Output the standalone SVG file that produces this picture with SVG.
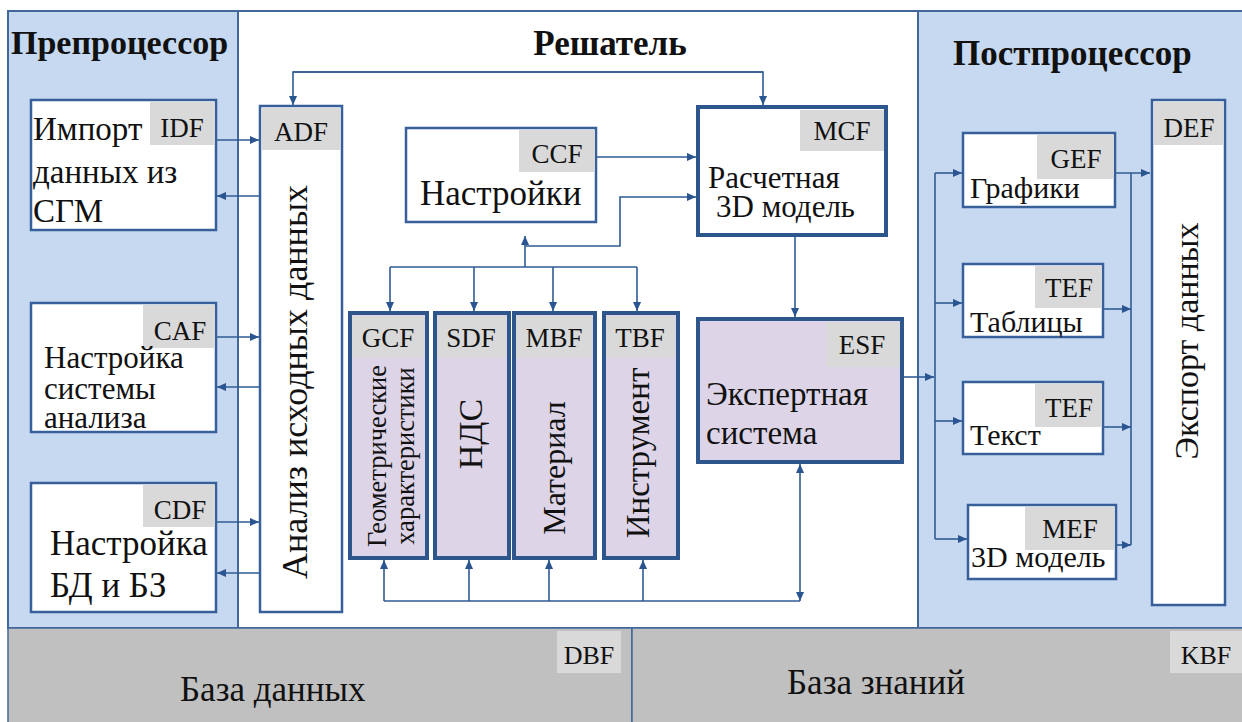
<svg xmlns="http://www.w3.org/2000/svg" width="1242" height="722" viewBox="0 0 1242 722" font-family="Liberation Serif, Tinos, DejaVu Serif, serif">
<style>
text{font-family:'Liberation Serif','Tinos','DejaVu Serif',serif;fill:#111}
.t{font-weight:bold;font-size:34px}
.lab{fill:#d9d9d9}
.lt{font-size:27px;text-anchor:middle}
.box{fill:#fff;stroke:#37609a;stroke-width:2.5}
.thick{fill:#fff;stroke:#2d568c;stroke-width:4}
.lav{fill:#ddd5e7;stroke:#2d568c;stroke-width:4}
.c path,.c line,.c polyline{fill:none;stroke:#2f5b93;stroke-width:1.6}
.ar{marker-end:url(#a)}
.m{font-size:31px}
.rot{text-anchor:middle}
</style>
<defs>
<marker id="a" viewBox="0 0 10 10" refX="10" refY="5" markerWidth="10" markerHeight="9" markerUnits="userSpaceOnUse" orient="auto-start-reverse">
<path d="M0,0.5 L10,5 L0,9.5z" fill="#2a5590"/>
</marker>
</defs>
<rect width="1242" height="722" fill="#fff"/>
<g id="panels">
<rect x="8" y="11" width="230" height="617" fill="#c6d9f0" stroke="#41679b" stroke-width="2"/>
<rect x="238" y="11" width="680" height="617" fill="#fff" stroke="#41679b" stroke-width="2"/>
<rect x="918" y="11" width="330" height="617" fill="#c6d9f0" stroke="#41679b" stroke-width="2"/>
<text class="t" x="11" y="54">Препроцессор</text>
<text class="t" x="610" y="55" text-anchor="middle" style="font-size:35px">Решатель</text>
<text class="t" x="953" y="65" style="font-size:35px">Постпроцессор</text>
</g>
<g id="bottom">
<rect x="8" y="628" width="624" height="100" fill="#c0c0c0" stroke="#41679b" stroke-width="1.5"/>
<rect x="632" y="628" width="616" height="100" fill="#c0c0c0" stroke="#41679b" stroke-width="1.5"/>
<rect class="lab" x="557" y="631" width="64" height="42"/>
<text x="589" y="664" font-size="26" text-anchor="middle">DBF</text>
<text x="180" y="701" style="font-size:35px">База данных</text>
<rect class="lab" x="1170" y="631" width="72" height="42"/>
<text x="1206" y="664" font-size="26" text-anchor="middle">KBF</text>
<text x="787" y="694" style="font-size:35px">База знаний</text>
</g>
<g id="connectors" class="c">
<line class="ar" x1="216" y1="140" x2="259" y2="140"/>
<line class="ar" x1="260" y1="196" x2="217" y2="196"/>
<line class="ar" x1="216" y1="337" x2="259" y2="337"/>
<line class="ar" x1="260" y1="387" x2="217" y2="387"/>
<line class="ar" x1="216" y1="522" x2="259" y2="522"/>
<line class="ar" x1="260" y1="573" x2="217" y2="573"/>
<path d="M763,72 H293 V105" class="ar"/>
<path d="M293,72 H763 V105" class="ar"/>
<line class="ar" x1="596" y1="157" x2="696" y2="157"/>
<path class="ar" d="M525,246 H620 V197 H696"/>
<line class="ar" x1="525" y1="267" x2="525" y2="236"/>
<path d="M390,267 H637"/>
<line class="ar" x1="390" y1="267" x2="390" y2="311"/>
<line class="ar" x1="474" y1="267" x2="474" y2="311"/>
<line class="ar" x1="553" y1="267" x2="553" y2="311"/>
<line class="ar" x1="637" y1="267" x2="637" y2="311"/>
<line class="ar" x1="795" y1="235" x2="795" y2="317"/>
<path d="M384,601 H800"/>
<line class="ar" x1="384" y1="601" x2="384" y2="560"/>
<line class="ar" x1="469" y1="601" x2="469" y2="560"/>
<line class="ar" x1="549" y1="601" x2="549" y2="560"/>
<line class="ar" x1="643" y1="601" x2="643" y2="560"/>
<line class="ar" x1="800" y1="530" x2="800" y2="464"/>
<line class="ar" x1="800" y1="530" x2="800" y2="601"/>
<line class="ar" x1="902" y1="377" x2="934" y2="377"/>
<path d="M935,173 V539"/>
<line class="ar" x1="935" y1="173" x2="962" y2="173"/>
<line class="ar" x1="935" y1="303" x2="962" y2="303"/>
<line class="ar" x1="935" y1="421" x2="962" y2="421"/>
<line class="ar" x1="935" y1="539" x2="967" y2="539"/>
<path d="M1131,173 V545"/>
<line class="ar" x1="1115" y1="173" x2="1150" y2="173"/>
<line class="ar" x1="1103" y1="309" x2="1131" y2="309"/>
<line class="ar" x1="1103" y1="427" x2="1131" y2="427"/>
<line class="ar" x1="1116" y1="545" x2="1131" y2="545"/>
</g>
<g id="IDF">
<rect class="box" x="31" y="100" width="185" height="130"/>
<rect class="lab" x="150" y="102" width="65" height="43"/>
<text class="lt" x="182" y="137">IDF</text>
<text x="33" y="140" style="font-size:33px">Импорт</text>
<text x="33" y="183" style="font-size:33px">данных из</text>
<text x="33" y="222" style="font-size:33px">СГМ</text>
</g>
<g id="CAF">
<rect class="box" x="31" y="303" width="185" height="129"/>
<rect class="lab" x="143" y="305" width="72" height="43"/>
<text class="lt" x="180" y="340">CAF</text>
<text class="m" x="44" y="368">Настройка</text>
<text class="m" x="44" y="399">системы</text>
<text class="m" x="44" y="428">анализа</text>
</g>
<g id="CDF">
<rect class="box" x="31" y="483" width="185" height="129"/>
<rect class="lab" x="143" y="485" width="72" height="42"/>
<text class="lt" x="180" y="519">CDF</text>
<text x="50" y="555" style="font-size:35px">Настройка</text>
<text x="50" y="597" style="font-size:35px">БД и БЗ</text>
</g>
<g id="ADF">
<rect class="box" x="260" y="106" width="82" height="506"/>
<rect class="lab" x="262" y="108" width="78" height="42"/>
<text class="lt" x="301" y="141">ADF</text>
<text class="rot" transform="translate(307,382) rotate(-90)" style="font-size:36px">Анализ исходных данных</text>
</g>
<g id="CCF">
<rect class="box" x="406" y="128" width="190" height="94"/>
<rect class="lab" x="519" y="130" width="76" height="42"/>
<text class="lt" x="557" y="163">CCF</text>
<text x="420" y="205" style="font-size:35px">Настройки</text>
</g>
<g id="MCF">
<rect class="thick" x="698" y="107" width="188" height="128"/>
<rect class="lab" x="800" y="110" width="84" height="41"/>
<text class="lt" x="842" y="140">MCF</text>
<text class="m" x="708" y="188">Расчетная</text>
<text class="m" x="716" y="217">3D модель</text>
</g>
<g id="GCF">
<rect class="lav" x="350" y="313" width="77" height="245"/>
<rect class="lab" x="352" y="316" width="72" height="42"/>
<text class="lt" x="388" y="347">GCF</text>
<text class="rot" transform="translate(386,456) rotate(-90)" style="font-size:26.5px">Геометрические</text>
<text class="rot" transform="translate(414,456) rotate(-90)" style="font-size:26.5px">характеристики</text>
</g>
<g id="SDF">
<rect class="lav" x="435" y="313" width="74" height="245"/>
<rect class="lab" x="437" y="316" width="69" height="42"/>
<text class="lt" x="471" y="347">SDF</text>
<text class="rot" transform="translate(482,434) rotate(-90)" style="font-size:34px">НДС</text>
</g>
<g id="MBF">
<rect class="lav" x="514" y="313" width="81" height="245"/>
<rect class="lab" x="516" y="316" width="76" height="42"/>
<text class="lt" x="554" y="347">MBF</text>
<text class="rot" transform="translate(565,468) rotate(-90)" style="font-size:32px">Материал</text>
</g>
<g id="TBF">
<rect class="lav" x="604" y="313" width="74" height="245"/>
<rect class="lab" x="606" y="316" width="69" height="42"/>
<text class="lt" x="640" y="347">TBF</text>
<text class="rot" transform="translate(649,453) rotate(-90)" style="font-size:33px">Инструмент</text>
</g>
<g id="ESF">
<rect class="lav" x="698" y="319" width="204" height="143"/>
<rect class="lab" x="826" y="322" width="74" height="45"/>
<text class="lt" x="862" y="354">ESF</text>
<text x="706" y="405" style="font-size:33px">Экспертная</text>
<text x="706" y="444" style="font-size:33px">система</text>
</g>
<g id="GEF">
<rect class="box" x="963" y="133" width="152" height="74"/>
<rect class="lab" x="1037" y="135" width="77" height="44"/>
<text class="lt" x="1076" y="168">GEF</text>
<text x="970" y="198" style="font-size:30px">Графики</text>
</g>
<g id="TEF1">
<rect class="box" x="963" y="264" width="140" height="73"/>
<rect class="lab" x="1035" y="266" width="67" height="42"/>
<text class="lt" x="1069" y="297">TEF</text>
<text x="970" y="332" style="font-size:30px">Таблицы</text>
</g>
<g id="TEF2">
<rect class="box" x="963" y="382" width="140" height="72"/>
<rect class="lab" x="1035" y="384" width="67" height="43"/>
<text class="lt" x="1069" y="417">TEF</text>
<text x="970" y="445" style="font-size:30px">Текст</text>
</g>
<g id="MEF">
<rect class="box" x="968" y="505" width="148" height="74"/>
<rect class="lab" x="1025" y="507" width="89" height="43"/>
<text class="lt" x="1070" y="538">MEF</text>
<text x="971" y="567" style="font-size:30px">3D модель</text>
</g>
<g id="DEF">
<rect class="box" x="1152" y="100" width="73" height="505"/>
<rect class="lab" x="1154" y="102" width="69" height="43"/>
<text class="lt" x="1189" y="137">DEF</text>
<text class="rot" transform="translate(1198,341) rotate(-90)" style="font-size:34px">Экспорт данных</text>
</g>
</svg>
